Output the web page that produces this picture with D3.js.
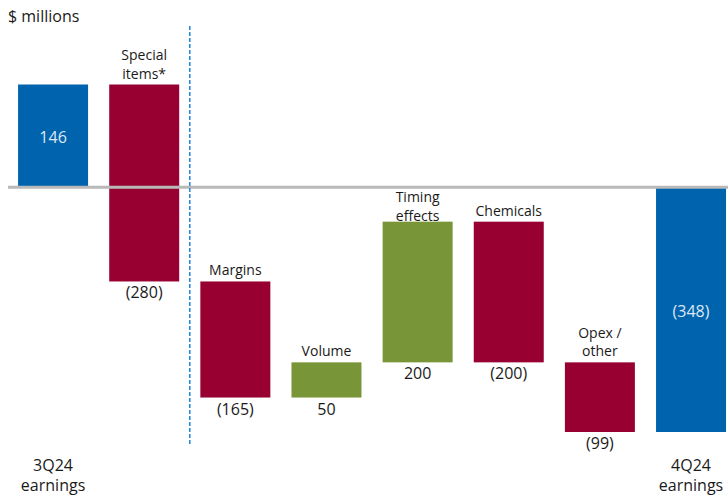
<!DOCTYPE html>
<html>
<head>
<meta charset="utf-8">
<script src="https://cdn.jsdelivr.net/npm/d3@7"></script>
<style>
  html, body { margin: 0; padding: 0; background: #fff; }
  svg { display: block; font-family: "Open Sans", sans-serif; }
</style>
</head>
<body>
<svg id="chart" width="728" height="499"></svg>
<script>
// Earnings bridge, $ millions
const categories = ["3Q24 earnings", "Special items*", "Margins", "Volume", "Timing effects", "Chemicals", "Opex / other", "4Q24 earnings"];
const labelLines = [["3Q24", "earnings"], ["Special", "items*"], ["Margins"], ["Volume"], ["Timing", "effects"], ["Chemicals"], ["Opex /", "other"], ["4Q24", "earnings"]];
const values = [146, -280, -165, 50, 200, -200, -99, -348];
const kinds = ["total", "delta", "delta", "delta", "delta", "delta", "delta", "total"];
const valueLabels = ["146", "(280)", "(165)", "50", "200", "(200)", "(99)", "(348)"];

const colors = { total: "#0063ae", neg: "#990032", pos: "#789537" };

const W = 728, H = 499;
const svg = d3.select("#chart");

// Running totals for the floating bars
let running = 0;
const bars = categories.map((c, i) => {
  let start, end;
  if (kinds[i] === "total") { start = 0; end = values[i]; running = values[i]; }
  else { start = running; end = running + values[i]; running = end; }
  return { cat: c, lines: labelLines[i], value: values[i], kind: kinds[i], label: valueLabels[i],
           top: Math.max(start, end), bottom: Math.min(start, end) };
});

const x = d3.scaleBand().domain(categories).range([7.5, 736.6]).paddingInner(0.232).paddingOuter(0.116);
const y = d3.scaleLinear().domain([146, -348]).range([84.5, 432]);

const fill = d => d.kind === "total" ? colors.total : (d.value < 0 ? colors.neg : colors.pos);

// Bars
svg.append("g").selectAll("rect").data(bars).join("rect")
  .attr("x", d => x(d.cat))
  .attr("width", x.bandwidth())
  .attr("y", d => y(d.top))
  .attr("height", d => y(d.bottom) - y(d.top))
  .attr("fill", fill);

// Zero line
svg.append("line")
  .attr("x1", 8).attr("x2", W)
  .attr("y1", y(0)).attr("y2", y(0))
  .attr("stroke", "#b9b9b9").attr("stroke-width", 3);

// Divider between starting items and operating drivers
const divX = x(categories[1]) + x.bandwidth() + (x.step() - x.bandwidth()) / 2;
svg.append("line")
  .attr("x1", divX).attr("x2", divX)
  .attr("y1", 26).attr("y2", 446)
  .attr("stroke", "#2c8ad8").attr("stroke-width", 1.6)
  .attr("stroke-dasharray", "4,2");

// Unit title
svg.append("text").attr("x", 8).attr("y", 22)
  .attr("font-size", 16).attr("fill", "#1a1a1a").text("$ millions");

const cx = d => x(d.cat) + x.bandwidth() / 2;
const lh = 18.5;

// Totals: value inside the bar, category below the chart
const totals = bars.filter(d => d.kind === "total");
svg.append("g").selectAll("text").data(totals).join("text")
  .attr("x", cx).attr("y", d => (y(d.top) + y(d.bottom)) / 2 + 1.5)
  .attr("text-anchor", "middle").attr("dominant-baseline", "central")
  .attr("font-size", 16).attr("fill", "#dfe8f3")
  .text(d => d.label);

totals.forEach(d => {
  const t = svg.append("text").attr("text-anchor", "middle")
    .attr("font-size", 16).attr("fill", "#1a1a1a");
  d.lines.forEach((ln, k) => {
    t.append("tspan").attr("x", cx(d)).attr("y", 471 + k * 20).text(ln);
  });
});

// Deltas: category above the bar, value below it
const deltas = bars.filter(d => d.kind === "delta");
deltas.forEach(d => {
  const n = d.lines.length;
  const barTop = y(d.top);
  let firstBase = barTop - 6 - (n - 1) * lh;
  // keep labels of bars hanging below zero clear of the zero line
  if (barTop > y(0)) firstBase = Math.max(firstBase, y(0) + 15);
  const t = svg.append("text").attr("text-anchor", "middle")
    .attr("font-size", 14).attr("fill", "#1a1a1a");
  d.lines.forEach((ln, k) => {
    t.append("tspan").attr("x", cx(d)).attr("y", firstBase + k * lh).text(ln);
  });
  svg.append("text").attr("text-anchor", "middle")
    .attr("x", cx(d)).attr("y", y(d.bottom) + 17)
    .attr("font-size", 16).attr("fill", "#1a1a1a")
    .text(d.label);
});
</script>
</body>
</html>
